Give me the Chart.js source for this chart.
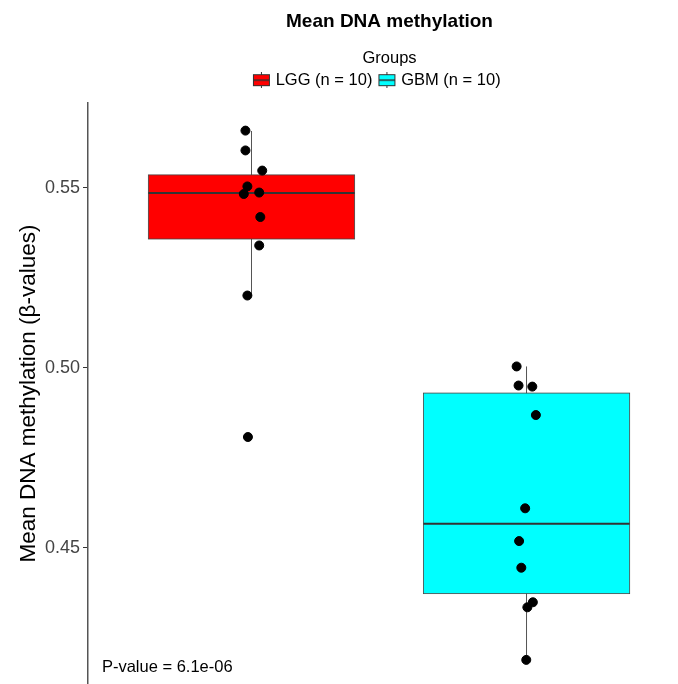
<!DOCTYPE html>
<html>
<head>
<meta charset="utf-8">
<style>
  html, body { margin: 0; padding: 0; background: #fff; overflow: hidden; }
  #wrap { width: 678px; height: 684px; overflow: hidden; }
</style>
<script src="https://cdn.jsdelivr.net/npm/chart.js@4.4.0/dist/chart.umd.min.js"></script>
</head>
<body>
<div id="wrap"><canvas id="chart" width="779" height="684"></canvas></div>
<script>
// groups and box statistics
const groups = ['LGG (n = 10)', 'GBM (n = 10)'];
const groupPos = [1, 2];
const groupColors = ['#ff0000', '#00ffff'];
const q1 = [0.5358, 0.4373];
const median = [0.5486, 0.4567];
const q3 = [0.5536, 0.4930];
const whiskerLow = [0.5200, 0.4189];
const whiskerHigh = [0.5658, 0.5004];

// jittered samples
const lggX = [0.978, 0.978, 1.039, 0.985, 0.972, 1.028, 1.032, 1.028, 0.985, 0.987];
const lggY = [0.5659, 0.5604, 0.5548, 0.5504, 0.5483, 0.5487, 0.5419, 0.5340, 0.5201, 0.4808];
const gbmX = [1.964, 1.971, 2.021, 2.034, 1.995, 1.973, 1.981, 2.023, 2.003, 1.999];
const gbmY = [0.5004, 0.4951, 0.4948, 0.4869, 0.4610, 0.4519, 0.4445, 0.4349, 0.4335, 0.4189];

const yTicks = [0.45, 0.50, 0.55];
const pValueText = 'P-value = 6.1e-06';

const FONT = "'Liberation Sans', Arial, sans-serif";

const points = lggX.map((x, i) => ({ x: x, y: lggY[i] }))
  .concat(gbmX.map((x, i) => ({ x: x, y: gbmY[i] })));

// little boxplot glyphs for the legend
function glyph(color) {
  const c = document.createElement('canvas');
  c.width = 19; c.height = 16;
  const g = c.getContext('2d');
  g.strokeStyle = '#333';
  g.lineWidth = 1;
  g.beginPath(); g.moveTo(9.5, 0); g.lineTo(9.5, 16); g.stroke();
  g.fillStyle = color;
  g.fillRect(1.5, 2.5, 16, 11);
  g.strokeRect(1.5, 2.5, 16, 11);
  g.lineWidth = 1.5;
  g.beginPath(); g.moveTo(1.5, 8); g.lineTo(17.5, 8); g.stroke();
  return c;
}
const glyphs = groupColors.map(glyph);

// small empty box between the legend and the plot panel
const gapPlugin = {
  id: 'legendGap',
  beforeInit(chart) {
    Chart.layouts.addBox(chart, {
      position: 'top', weight: -10, fullSize: true, options: {},
      left: 0, top: 0, right: 0, bottom: 0, width: 0, height: 0,
      isHorizontal() { return true; },
      update(maxWidth) { this.width = maxWidth; this.height = 4.5; },
      getPadding() { return { left: 0, top: 0, right: 0, bottom: 0 }; },
      draw() {}
    });
  }
};

const boxPlugin = {
  id: 'boxes',
  beforeDatasetsDraw(chart) {
    const { ctx, scales: { x, y } } = chart;
    ctx.save();
    groupPos.forEach((p, i) => {
      const cx = x.getPixelForValue(p);
      const half = x.getPixelForValue(p + 0.375) - cx;
      // whisker
      ctx.strokeStyle = '#555';
      ctx.lineWidth = 1;
      ctx.beginPath();
      ctx.moveTo(cx, y.getPixelForValue(whiskerLow[i]));
      ctx.lineTo(cx, y.getPixelForValue(whiskerHigh[i]));
      ctx.stroke();
      // box
      const top = y.getPixelForValue(q3[i]);
      const bot = y.getPixelForValue(q1[i]);
      ctx.fillStyle = groupColors[i];
      ctx.fillRect(cx - half, top, half * 2, bot - top);
      ctx.strokeStyle = '#444';
      ctx.lineWidth = 0.8;
      ctx.strokeRect(cx - half, top, half * 2, bot - top);
      // median
      const m = y.getPixelForValue(median[i]);
      ctx.strokeStyle = '#333';
      ctx.lineWidth = 2;
      ctx.beginPath();
      ctx.moveTo(cx - half, m);
      ctx.lineTo(cx + half, m);
      ctx.stroke();
    });
    ctx.restore();
  },
  afterDraw(chart) {
    const { ctx, scales: { x, y } } = chart;
    ctx.save();
    ctx.font = '16.5px ' + FONT;
    ctx.fillStyle = '#000';
    ctx.textBaseline = 'middle';
    ctx.fillText(pValueText, x.getPixelForValue(0.456), y.getPixelForValue(0.4167));
    ctx.restore();
  }
};

new Chart(document.getElementById('chart'), {
  type: 'scatter',
  data: {
    datasets: [{
      data: points,
      backgroundColor: '#000',
      borderColor: '#000',
      pointRadius: 4.5,
      pointHoverRadius: 4.5
    }]
  },
  options: {
    responsive: false,
    animation: false,
    devicePixelRatio: 1,
    layout: { autoPadding: false, padding: 0 },
    plugins: {
      tooltip: { enabled: false },
      title: {
        display: true,
        text: 'Mean DNA methylation',
        color: '#000',
        font: { family: FONT, size: 19, weight: 'bold' },
        padding: { top: 10, bottom: 17.6 }
      },
      legend: {
        display: true,
        onClick: null,
        title: {
          display: true,
          text: 'Groups',
          color: '#000',
          font: { family: FONT, size: 16.5, lineHeight: 0.788 },
          padding: 0
        },
        labels: {
          usePointStyle: true,
          pointStyleWidth: 12,
          color: '#000',
          font: { family: FONT, size: 16.5 },
          padding: 8.5,
          generateLabels: () => groups.map((g, i) => ({
            text: g + (i === groups.length - 1 ? '     ' : ''),
            pointStyle: glyphs[i],
            fillStyle: groupColors[i],
            strokeStyle: '#333',
            lineWidth: 0,
            hidden: false,
            datasetIndex: 0
          }))
        }
      }
    },
    scales: {
      x: { type: 'linear', min: 0.4055, max: 2.918, display: false },
      y: {
        min: 0.4122,
        max: 0.5736,
        afterBuildTicks: (s) => { s.ticks = yTicks.map(v => ({ value: v })); },
        afterFit: (s) => { s.width = 88; s.paddingTop = 0; s.paddingBottom = 0; },
        grid: { display: true, drawOnChartArea: false, tickLength: 5, color: '#333', lineWidth: 1 },
        border: { display: true, color: '#555', width: 1.5 },
        ticks: {
          color: '#444',
          font: { family: FONT, size: 18 },
          padding: 3,
          callback: (v) => v.toFixed(2)
        },
        title: {
          display: true,
          text: 'Mean DNA methylation (β-values)',
          color: '#000',
          font: { family: FONT, size: 22.5 },
          padding: { top: 15.5, bottom: 0 }
        }
      }
    }
  },
  plugins: [gapPlugin, boxPlugin]
});
</script>
</body>
</html>
